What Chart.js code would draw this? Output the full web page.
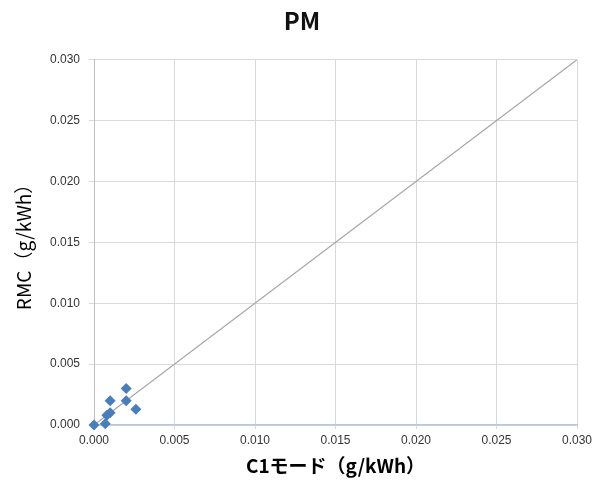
<!DOCTYPE html>
<html>
<head>
<meta charset="utf-8">
<script src="https://cdn.jsdelivr.net/npm/chart.js@4"></script>
<style>
  html,body{margin:0;padding:0;background:#fff}
  #wrap{width:604px;height:481px}
</style>
</head>
<body>
<div id="wrap"><canvas id="pm" width="604" height="481"></canvas></div>
<script>
// data (g/kWh)
const c1Mode = [0.0000, 0.0007, 0.0008, 0.0010, 0.0010, 0.0020, 0.0020, 0.0026];
const rmc    = [0.0000, 0.0001, 0.0008, 0.0010, 0.0020, 0.0030, 0.0020, 0.0013];
const refLine = [0, 0.030];       // y = x line
const axisMin = 0, axisMax = 0.030, axisStep = 0.005;

const tickFont = {family:'"Liberation Sans", Arial, sans-serif', size:12};
const jpFont = '"Noto Sans CJK JP", "Noto Sans", sans-serif';

const points = c1Mode.map((x,i)=>({x, y: rmc[i]}));

function fixedTicks(s){
  s.ticks = [];
  for(let v=axisMin; v<=axisMax+1e-9; v+=axisStep) s.ticks.push({value:+v.toFixed(3)});
}

new Chart(document.getElementById('pm').getContext('2d'), {
  type:'scatter',
  data:{
    datasets:[
      {
        label:'y=x', type:'line', data: refLine.map(v=>({x:v, y:v})),
        borderColor:'#a6a6a6', borderWidth:1.2, pointRadius:0, fill:false, order:2
      },
      {
        label:'PM', data: points, pointStyle:'rectRot', pointRadius:5.5, clip:false,
        backgroundColor:'#4a7ebb', borderColor:'#4a7ebb', borderWidth:0, order:1
      }
    ]
  },
  options:{
    responsive:false, animation:false,
    layout:{padding:0},
    plugins:{
      legend:{display:false},
      tooltip:{enabled:false},
      title:{display:true, text:'PM', color:'#111',
        font:{family:jpFont, size:24, weight:'bold', lineHeight:1.2},
        padding:{top:6, bottom:25}}
    },
    scales:{
      x:{
        type:'linear', min:axisMin, max:axisMax,
        afterBuildTicks: fixedTicks,
        afterFit: s => { s.height = 56 },
        ticks:{callback:v=>v.toFixed(3), color:'#333', font:tickFont, padding:4, maxRotation:0},
        grid:{color:'#d9d9d9', tickLength:4, drawTicks:true},
        border:{color:'#b8c8dc', width:1.5},
        title:{display:true, text:'C1モード（g/kWh）', color:'#000',
          font:{family:jpFont, size:19, weight:'bold'}, padding:{top:0}}
      },
      y:{
        type:'linear', min:axisMin, max:axisMax,
        afterBuildTicks: fixedTicks,
        afterFit: s => { s.width = 94 },
        ticks:{callback:v=>v.toFixed(3), color:'#333', font:tickFont, padding:9},
        grid:{color:'#d9d9d9', tickLength:5},
        border:{color:'#bfbfbf'},
        title:{display:true, text:'RMC（g/kWh）', color:'#000',
          font:{family:jpFont, size:19}, padding:{top:12, bottom:0}}
      },
      // empty right margin so the title stays centred on the page
      yRight:{
        type:'linear', position:'right', min:axisMin, max:axisMax,
        afterFit: s => { s.width = 27 },
        ticks:{display:false}, grid:{display:false, drawTicks:false}, border:{display:false}
      }
    }
  }
});
</script>
</body>
</html>
